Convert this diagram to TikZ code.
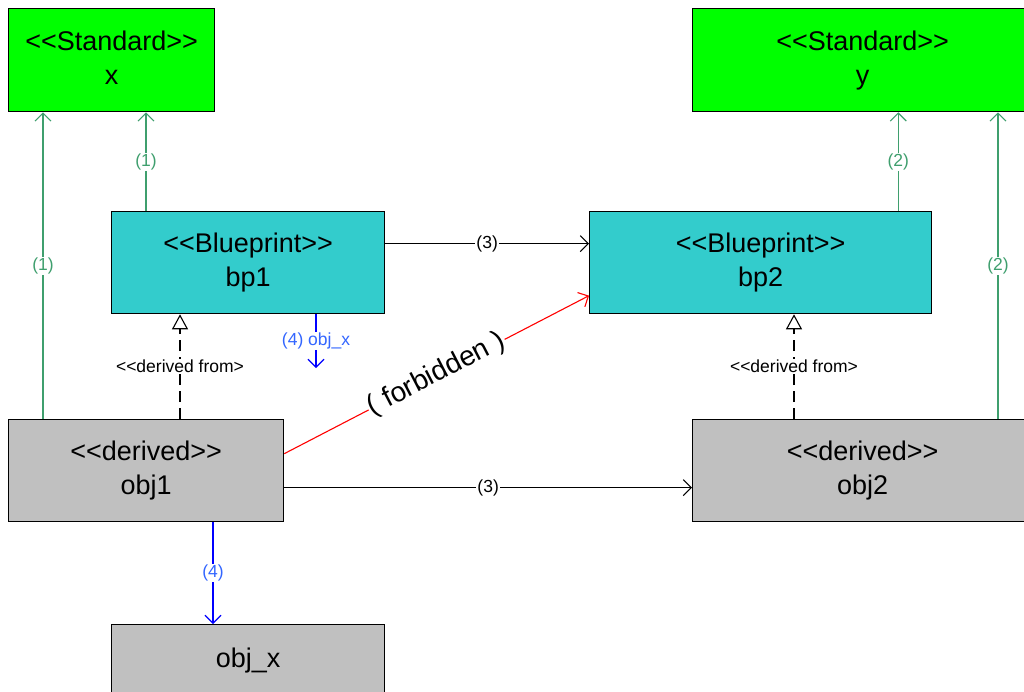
\documentclass[tikz,border=0pt]{standalone}
\usepackage{fontspec}
\setmainfont{Liberation Sans}
\usetikzlibrary{arrows.meta}
\definecolor{stdgreen}{HTML}{00FF00}
\definecolor{bpcyan}{HTML}{33CCCC}
\definecolor{objgray}{HTML}{C0C0C0}
\definecolor{lnkgreen}{HTML}{3F9F6E}
\definecolor{lblgreen}{HTML}{3F9F6E}
\definecolor{lblblue}{HTML}{3366FF}
\newcommand\myll{\mbox{<}\mbox{<}}
\newcommand\mygg{\mbox{>}\mbox{>}}
\begin{document}
\begin{tikzpicture}[x=1pt,y=-1pt,
  box/.style={draw=black, line width=1.3pt, inner sep=0pt, align=center,
    font=\fontsize{27}{34}\selectfont, anchor=north west},
  stdbox/.style={box, fill=stdgreen},
  bpbox/.style={box, fill=bpcyan},
  objbox/.style={box, fill=objgray},
  lbl/.style={fill=white, inner sep=1pt, font=\fontsize{17.5}{20}\selectfont},
  barb/.style={-{Straight Barb[length=8pt,width=16pt]}, line width=1.1pt},
  grnlink/.style={barb, draw=lnkgreen},
  blklink/.style={barb, draw=black},
  bluelink/.style={barb, draw=blue},
  redlink/.style={barb, draw=red},
  derived/.style={-{Triangle[open,length=15pt,width=16pt,fill=white]}, line width=1.1pt, draw=black, dash pattern=on 11pt off 6pt},
]
\useasboundingbox (0,0) rectangle (1024,691);

% boxes
\node[stdbox, minimum width=206pt, minimum height=103pt] (x) at (8,8) {\myll Standard\mygg\\x\vphantom{y}};
\node[stdbox, minimum width=340pt, minimum height=103pt] (y) at (692,8) {\myll Standard\mygg\\y};
\node[bpbox, minimum width=273pt, minimum height=102pt] (bp1) at (111,211) {\myll Blueprint\mygg\\bp1};
\node[bpbox, minimum width=342pt, minimum height=102pt] (bp2) at (589,211) {\myll Blueprint\mygg\\bp2};
\node[objbox, minimum width=275pt, minimum height=102pt] (obj1) at (8,419) {\myll derived\mygg\\obj1};
\node[objbox, minimum width=340pt, minimum height=102pt] (obj2) at (692,419) {\myll derived\mygg\\obj2};
\node[objbox, minimum width=273pt, minimum height=72pt] (objx) at (111,624) {obj\_x};

% green links
\draw[grnlink] ([xshift=35pt]obj1.north west) -- ([xshift=35pt]obj1.north west |- x.south)
  node[lbl, text=lblgreen, midway] {(1)};
\draw[grnlink] ([xshift=35pt]bp1.north west) -- ([xshift=35pt]bp1.north west |- x.south)
  node[lbl, text=lblgreen, midway] {(1)};
\draw[grnlink] ([xshift=-34pt]bp2.north east) -- ([xshift=-34pt]bp2.north east |- y.south)
  node[lbl, text=lblgreen, midway] {(2)};
\draw[grnlink] ([xshift=306pt]obj2.north west) -- ([xshift=306pt]obj2.north west |- y.south)
  node[lbl, text=lblgreen, midway] {(2)};

% black links (3)
\draw[blklink] ([yshift=19pt]bp1.east) -- ([yshift=19pt]bp1.east -| bp2.west)
  node[lbl, midway] {(3)};
\draw[blklink] ([yshift=-17pt]obj1.east) -- ([yshift=-17pt]obj1.east -| obj2.west)
  node[lbl, midway] {(3)};

% forbidden
\draw[redlink] ([yshift=17pt]obj1.east) -- ([yshift=-33pt]bp2.west)
  node[midway, sloped, fill=white, inner sep=1pt, font=\fontsize{28}{32}\selectfont] {( forbidden )};

% derived from
\draw[derived] ([xshift=172pt]obj1.north west) -- ([xshift=172pt]obj1.north west |- bp1.south)
  node[lbl, midway, solid] {\myll derived from\mbox{>}};
\draw[derived] ([xshift=102pt]obj2.north west) -- ([xshift=102pt]obj2.north west |- bp2.south)
  node[lbl, midway, solid] {\myll derived from\mbox{>}};

% blue links
\draw[bluelink] ([xshift=205pt]obj1.south west) -- ([xshift=205pt]obj1.south west |- objx.north)
  node[lbl, text=lblblue, midway] {(4)};
\coordinate (stub) at (316,368);
\draw[bluelink] (bp1.south -| stub) -- (stub)
  node[lbl, text=lblblue, midway] {(4) obj\_x};
\end{tikzpicture}
\end{document}
